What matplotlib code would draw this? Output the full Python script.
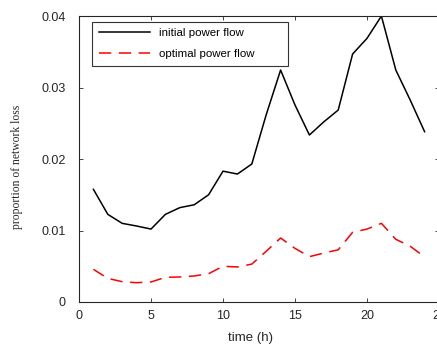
import matplotlib.pyplot as plt
import numpy as np

hours = np.arange(1, 25)
initial_flow = [0.01576, 0.01226, 0.0110, 0.01063, 0.0102, 0.01226, 0.0132, 0.0136,
                0.0150, 0.0183, 0.0179, 0.0193, 0.0262, 0.03245, 0.02755, 0.02336,
                0.0252, 0.02685, 0.03469, 0.03688, 0.0400, 0.03245, 0.02825, 0.02382]
optimal_flow = [0.00457, 0.0033, 0.00284, 0.0027, 0.0028, 0.00345, 0.0035, 0.00364,
                0.00396, 0.0050, 0.0049, 0.0053, 0.0071, 0.00895, 0.0075, 0.00634,
                0.00685, 0.0073, 0.00975, 0.0102, 0.0110, 0.00877, 0.0078, 0.0063]
x_ticks = [0, 5, 10, 15, 20, 25]
y_ticks = [0, 0.01, 0.02, 0.03, 0.04]
y_tick_labels = ["0", "0.01", "0.02", "0.03", "0.04"]

plt.rcParams['font.family'] = ['Liberation Sans', 'DejaVu Sans']

fig = plt.figure(figsize=(4.37, 3.49), dpi=100)
# axes runs slightly past the right edge, like the original export
ax = fig.add_axes([0.1808, 0.1347, 0.8238, 0.8193])

ax.plot(hours, initial_flow, color='black', lw=1.1, label='initial power flow')
ax.plot(hours, optimal_flow, color='red', lw=1.1, dashes=(8, 5), label='optimal power flow')

ax.set_xlim(0, 25)
ax.set_ylim(0, 0.04)
ax.set_xticks(x_ticks)
ax.set_yticks(y_ticks)
ax.set_yticklabels(y_tick_labels)
ax.tick_params(direction='in', top=True, right=True, labelsize=9, length=3,
               width=0.6, colors='#262626', labelcolor='#262626')
ax.tick_params(axis='x', pad=5.5)
ax.tick_params(axis='y', pad=9.5)
for s in ax.spines.values():
    s.set_linewidth(0.8)
    s.set_color('#262626')

ax.set_xlabel('time (h)', fontsize=9.5, color='#262626')
ax.xaxis.set_label_coords(0.475, -0.105)
ax.set_ylabel('proportion of network loss', fontsize=8.4, family='Liberation Serif',
              color='#262626')
ax.yaxis.set_label_coords(-0.155, 0.472)

leg = ax.legend(loc='upper left', bbox_to_anchor=(0.037, 0.0, 0.544, 0.980), mode='expand',
                fontsize=8.25, handlelength=4.5, frameon=True, fancybox=False,
                edgecolor='black', borderpad=0.56, labelspacing=0.98, handletextpad=0.8,
                borderaxespad=0)
leg.get_frame().set_linewidth(0.8)

fig.savefig('out.png', dpi=100)
